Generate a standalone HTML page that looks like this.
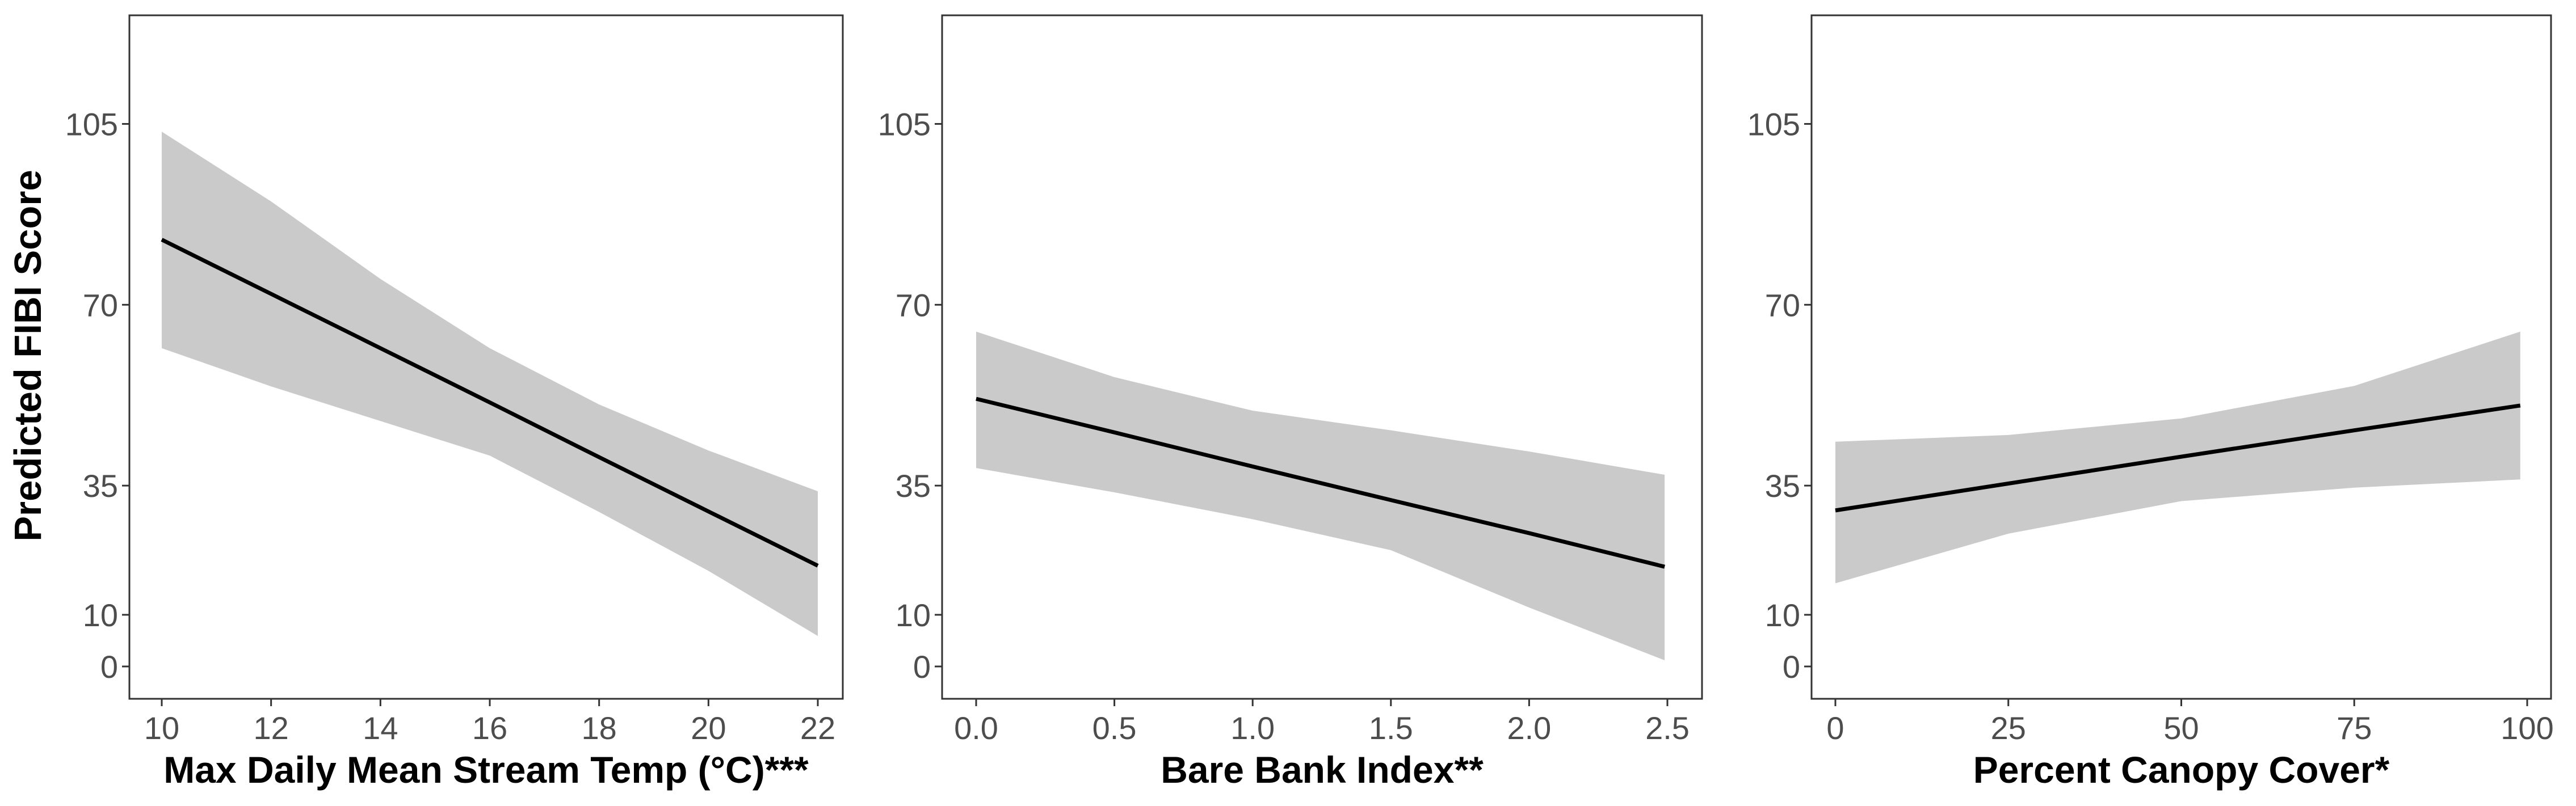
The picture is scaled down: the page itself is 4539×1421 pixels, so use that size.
<!DOCTYPE html>
<html><head><meta charset="utf-8"><style>
html,body{margin:0;padding:0;background:#fff}
svg{display:block}
text{font-family:"Liberation Sans",Arial,sans-serif}
</style></head><body>
<svg id="chart" width="4539" height="1421" viewBox="0 0 4539 1421" xmlns="http://www.w3.org/2000/svg">
<text x="0" y="0" transform="translate(72,627) rotate(-90)" text-anchor="middle" font-size="67" font-weight="bold" fill="#000">Predicted FIBI Score</text>
</svg>
<script>
const yTicks=[0,10,35,70,105];
const p1X=[10,12,14,16,18,20,22];
const p1Fit=[82.6,72.1,61.6,51.1,40.5,30.0,19.5];
const p1Up=[103.5,90.0,75.0,61.6,50.7,41.8,33.9];
const p1Lo=[61.6,54.2,47.5,40.8,29.9,18.5,5.9];
const p1Ticks=[10,12,14,16,18,20,22];
const p1TickLabels=["10","12","14","16","18","20","22"];
const p2X=[0,0.5,1,1.5,2,2.49];
const p2Fit=[51.8,45.3,38.7,32.2,25.8,19.3];
const p2Up=[64.8,56,49.5,45.7,41.6,37.1];
const p2Lo=[38.4,33.7,28.5,22.5,11.4,1.2];
const p2Ticks=[0,0.5,1,1.5,2,2.5];
const p2TickLabels=["0.0","0.5","1.0","1.5","2.0","2.5"];
const p3X=[0,25,50,75,99];
const p3Fit=[30.2,35.4,40.6,45.7,50.5];
const p3Up=[43.5,44.8,48,54.3,64.8];
const p3Lo=[16.1,25.7,32,34.6,36.2];
const p3Ticks=[0,25,50,75,100];
const p3TickLabels=["0","25","50","75","100"];

const NS="http://www.w3.org/2000/svg";
const svg=document.getElementById('chart');
function mk(tag,attrs,parent){const e=document.createElementNS(NS,tag);for(const k in attrs)e.setAttribute(k,attrs[k]);(parent||svg).appendChild(e);return e;}
const TOP=27,BOT=1232;
function yS(v){return 1175-v*9.11;}

const panels=[
 {name:'temp',left:228,right:1485,x0:10,px0:285,x1:22,px1:1441,X:p1X,F:p1Fit,U:p1Up,L:p1Lo,T:p1Ticks,TL:p1TickLabels,title:'Max Daily Mean Stream Temp (°C)***'},
 {name:'bare-bank',left:1660,right:2999,x0:0,px0:1720,x1:2.5,px1:2938,X:p2X,F:p2Fit,U:p2Up,L:p2Lo,T:p2Ticks,TL:p2TickLabels,title:'Bare Bank Index**'},
 {name:'canopy',left:3192,right:4495,x0:0,px0:3234,x1:100,px1:4453,X:p3X,F:p3Fit,U:p3Up,L:p3Lo,T:p3Ticks,TL:p3TickLabels,title:'Percent Canopy Cover*'}
];
panels.forEach(p=>{
 const xS=v=>p.px0+(v-p.x0)*(p.px1-p.px0)/(p.x1-p.x0);
 const g=mk('g',{});
 
 
 let d='M'+p.X.map((x,i)=>xS(x)+','+yS(p.U[i])).join('L');
 for(let i=p.X.length-1;i>=0;i--)d+='L'+xS(p.X[i])+','+yS(p.L[i]);
 const band=mk('path',{d:d+'Z',fill:'#cacaca'},g);
 
 
 const line=mk('polyline',{points:p.X.map((x,i)=>xS(x)+','+yS(p.F[i])).join(' '),fill:'none',stroke:'#000','stroke-width':7},g);
 
 
 const fr=mk('rect',{x:p.left,y:TOP,width:p.right-p.left,height:BOT-TOP,fill:'none',stroke:'#333','stroke-width':3},g);
 
 
 yTicks.forEach(v=>{
  mk('line',{x1:p.left-13,x2:p.left,y1:yS(v),y2:yS(v),stroke:'#333','stroke-width':3},g);
  const t=mk('text',{x:p.left-20,y:yS(v)+20,'text-anchor':'end','font-size':56,fill:'#4d4d4d'},g);
  t.textContent=v;
  
  
 });
 p.T.forEach((v,i)=>{
  mk('line',{x1:xS(v),x2:xS(v),y1:BOT,y2:BOT+13,stroke:'#333','stroke-width':3},g);
  const t=mk('text',{x:xS(v),y:1303,'text-anchor':'middle','font-size':56,fill:'#4d4d4d'},g);
  t.textContent=p.TL[i];
  
  
 });
 const tt=mk('text',{x:(p.left+p.right)/2,y:1380,'text-anchor':'middle','font-size':66,'font-weight':'bold',fill:'#000'},g);
 tt.textContent=p.title;
 
 
});
</script>
</body></html>
